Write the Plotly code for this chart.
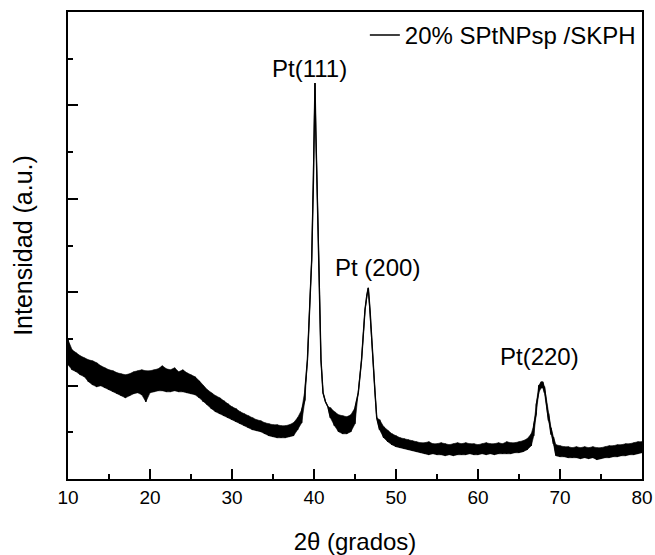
import plotly.graph_objects as go

two_theta = [10.0, 10.5, 11.0, 11.5, 12.0, 12.5, 13.0, 13.5, 14.0, 14.5,
             15.0, 15.5, 16.0, 16.5, 17.0, 17.5, 18.0, 18.5, 19.0, 19.5,
             20.0, 20.5, 21.0, 21.5, 22.0, 22.5, 23.0, 23.5, 24.0, 24.5,
             25.0, 25.5, 26.0, 26.5, 27.0, 27.5, 28.0, 28.5, 29.0, 29.5,
             30.0, 30.5, 31.0, 31.5, 32.0, 32.5, 33.0, 33.5, 34.0, 34.5,
             35.0, 35.5, 36.0, 36.5, 37.0, 37.5, 38.0, 38.5, 38.9, 39.2,
             39.5, 39.72, 39.93, 40.05, 40.12, 40.22, 40.34, 40.6, 40.85, 41.1,
             41.4, 41.7, 42.0, 42.5, 43.0, 43.5, 44.0, 44.5, 45.0, 45.4,
             45.8, 46.22, 46.45, 46.62, 46.83, 47.16, 47.44, 47.65, 48.0, 48.5,
             49.0, 49.5, 50.0, 50.5, 51.0, 51.5, 52.0, 52.5, 53.0, 53.5,
             54.0, 54.5, 55.0, 55.5, 56.0, 56.5, 57.0, 57.5, 58.0, 58.5,
             59.0, 59.5, 60.0, 60.5, 61.0, 61.5, 62.0, 62.5, 63.0, 63.5,
             64.0, 64.5, 65.0, 65.5, 66.0, 66.5, 66.8, 67.1, 67.4, 67.7,
             67.9, 68.1, 68.35, 68.6, 68.9, 69.2, 69.5, 70.0, 70.5, 71.0,
             71.5, 72.0, 72.5, 73.0, 73.5, 74.0, 74.5, 75.0, 75.5, 76.0,
             76.5, 77.0, 77.5, 78.0, 78.5, 79.0, 79.5, 80.0]

intensity_upper = [2980, 2766, 2702, 2637, 2595, 2552, 2530, 2488, 2424, 2381,
                   2338, 2317, 2274, 2252, 2231, 2252, 2295, 2317, 2338, 2317,
                   2317, 2338, 2359, 2424, 2359, 2338, 2381, 2295, 2338, 2274,
                   2231, 2188, 2103, 1996, 1910, 1846, 1782, 1739, 1675, 1611,
                   1546, 1504, 1440, 1397, 1354, 1311, 1268, 1247, 1204, 1183,
                   1161, 1161, 1140, 1140, 1161, 1204, 1311, 1482, 1910, 2552,
                   3835, 4691, 6402, 7685, 8477, 7472, 6402, 4691, 2552, 1846,
                   1653, 1546, 1525, 1440, 1375, 1354, 1333, 1375, 1525, 1846,
                   2552, 3621, 3942, 4092, 3621, 2552, 1846, 1311, 1268, 1119,
                   1033, 969, 926, 883, 862, 841, 819, 798, 776, 776,
                   798, 755, 755, 776, 755, 734, 755, 776, 755, 776,
                   755, 755, 734, 755, 776, 755, 755, 776, 755, 798,
                   776, 776, 798, 819, 862, 969, 1161, 1590, 2000, 2081,
                   2081, 1980, 1700, 1400, 1100, 900, 734, 712, 691, 691,
                   670, 691, 670, 691, 670, 691, 670, 670, 691, 712,
                   712, 734, 734, 755, 755, 776, 798, 798]

intensity_lower = [2445, 2338, 2295, 2231, 2188, 2081, 2017, 1974, 1996, 1953,
                   1910, 1867, 1825, 1782, 1739, 1782, 1825, 1846, 1803, 1653,
                   1846, 1867, 1889, 1889, 1867, 1867, 1889, 1867, 1867, 1846,
                   1825, 1803, 1739, 1653, 1589, 1504, 1440, 1397, 1354, 1311,
                   1268, 1226, 1183, 1140, 1097, 1055, 1033, 1012, 969, 926,
                   905, 883, 883, 883, 905, 926, 1055, 1204, 1700, 2552,
                   3835, 4691, 6402, 7685, 8477, 7472, 6402, 4691, 2552, 1846,
                   1653, 1546, 1311, 1140, 1012, 969, 969, 1012, 1183, 1846,
                   2552, 3621, 3942, 4092, 3621, 2552, 1846, 1311, 1055, 883,
                   798, 734, 691, 670, 648, 627, 605, 584, 563, 541,
                   520, 541, 520, 520, 498, 520, 498, 520, 520, 520,
                   541, 520, 520, 541, 520, 541, 520, 541, 541, 541,
                   541, 563, 563, 584, 627, 712, 926, 1400, 1850, 1950,
                   1950, 1850, 1550, 1250, 950, 750, 498, 477, 477, 456,
                   456, 456, 434, 456, 434, 456, 413, 434, 456, 456,
                   477, 477, 498, 498, 520, 520, 541, 563]

series_name = "20% SPtNPsp /SKPH"
peak_labels = ["Pt(111)", "Pt (200)", "Pt(220)"]
peak_label_x = [39.5, 47.7, 67.56]
peak_label_y = [8800, 4520, 2620]

FONT = "Liberation Sans, Arial, sans-serif"

fig = go.Figure()

# noisy band (filled envelope)
band_x = two_theta + two_theta[::-1]
band_y = intensity_upper + intensity_lower[::-1]
fig.add_trace(go.Scatter(x=band_x, y=band_y, fill="toself", fillcolor="black",
                         mode="lines", line=dict(color="black", width=0.6),
                         showlegend=False, hoverinfo="skip"))

# zig-zag trace through the envelope
zx, zy = [], []
for t, lo, hi in zip(two_theta, intensity_lower, intensity_upper):
    zx += [t, t]
    zy += [lo, hi]
fig.add_trace(go.Scatter(x=zx, y=zy, mode="lines", name=series_name,
                         line=dict(color="black", width=1.4)))

for txt, px, py in zip(peak_labels, peak_label_x, peak_label_y):
    fig.add_annotation(x=px, y=py, text=txt, showarrow=False,
                       xanchor="center", yanchor="middle",
                       font=dict(family=FONT, size=24, color="black"))

fig.update_layout(
    width=655, height=555,
    margin=dict(l=68, r=13, t=12, b=76),
    paper_bgcolor="white", plot_bgcolor="white",
    font=dict(family=FONT, color="black"),
    legend=dict(x=0.998, y=0.998, xanchor="right", yanchor="top",
                bgcolor="rgba(0,0,0,0)", font=dict(family=FONT, size=24),
                itemwidth=30),
)
fig.update_xaxes(range=[10, 80], showgrid=False, zeroline=False, automargin=False,
                 showline=True, linecolor="black", linewidth=1.5, mirror=True,
                 ticks="inside", ticklen=10, tickwidth=1.5, tickcolor="black",
                 dtick=10, tick0=10,
                 minor=dict(ticks="inside", ticklen=5, tickwidth=1.5,
                            tickcolor="black", dtick=5, showgrid=False),
                 tickfont=dict(family=FONT, size=19),
                 title=dict(text="2θ (grados)", font=dict(family=FONT, size=24),
                            standoff=27))
fig.update_yaxes(range=[0, 10000], showgrid=False, zeroline=False, automargin=False,
                 showline=True, linecolor="black", linewidth=1.5, mirror=True,
                 ticks="inside", ticklen=10, tickwidth=1.5, tickcolor="black",
                 dtick=2000, tick0=0, showticklabels=False,
                 minor=dict(ticks="inside", ticklen=5, tickwidth=1.5,
                            tickcolor="black", dtick=1000, showgrid=False),
                 title=dict(text="Intensidad (a.u.)", font=dict(family=FONT, size=25),
                            standoff=27))

fig.write_html("out.html")
